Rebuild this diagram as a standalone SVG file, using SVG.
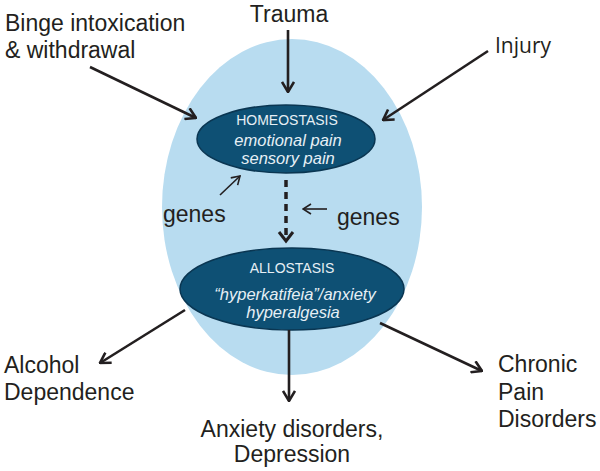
<svg xmlns="http://www.w3.org/2000/svg" width="600" height="471" viewBox="0 0 600 471">
<defs>
<style>
.lbl{font-family:"Liberation Sans",Arial,sans-serif;font-size:23px;fill:#231f20}
.in{font-family:"Liberation Sans",Arial,sans-serif;fill:#e6eff5;text-anchor:middle}
.cap{font-size:14px}
.it{font-size:16.5px;font-style:italic}
.ar{stroke:#231f20;stroke-width:2.6;fill:none;marker-end:url(#chev)}
.thin{stroke:#231f20;stroke-width:1.6;fill:none;marker-end:url(#chevs)}
</style>
<marker id="chev" viewBox="0 0 12 14" refX="11" refY="7" markerWidth="12" markerHeight="14" markerUnits="userSpaceOnUse" orient="auto">
<path d="M1,1 L11,7 L1,13" fill="none" stroke="#231f20" stroke-width="2.6"/>
</marker>
<marker id="chevs" viewBox="0 0 10 12" refX="9" refY="6" markerWidth="10" markerHeight="12" markerUnits="userSpaceOnUse" orient="auto">
<path d="M1,1 L9,6 L1,11" fill="none" stroke="#231f20" stroke-width="1.6"/>
</marker>
</defs>
<rect width="600" height="471" fill="#ffffff"/>
<g id="outer"><ellipse cx="292" cy="207" rx="130" ry="168" fill="#b8dcf0"/></g>
<g id="homeostasis">
<ellipse cx="286" cy="139" rx="89" ry="34" fill="#0e5074" stroke="#0a3652" stroke-width="1.5"/>
<text class="in cap" x="287" y="125">HOMEOSTASIS</text>
<text class="in it" x="288" y="146">emotional pain</text>
<text class="in it" x="288" y="164">sensory pain</text>
</g>
<g id="allostasis">
<ellipse cx="292" cy="289" rx="112" ry="41" fill="#0e5074" stroke="#0a3652" stroke-width="1.5"/>
<text class="in cap" x="292" y="273">ALLOSTASIS</text>
<text class="in it" x="295" y="300">“hyperkatifeia”/anxiety</text>
<text class="in it" x="293" y="318">hyperalgesia</text>
</g>
<g id="labels">
<text class="lbl" x="5" y="31">Binge intoxication</text>
<text class="lbl" x="5" y="58">&amp; withdrawal</text>
<text class="lbl" x="289" y="22" text-anchor="middle">Trauma</text>
<text x="495" y="53" style="font-family:'Open Sans',sans-serif;font-size:21px;fill:#231f20">Injury</text>
<text class="lbl" x="163" y="222">genes</text>
<text class="lbl" x="337" y="225">genes</text>
<text class="lbl" x="4" y="373">Alcohol</text>
<text class="lbl" x="4" y="400">Dependence</text>
<text class="lbl" x="498" y="372">Chronic</text>
<text class="lbl" x="498" y="400">Pain</text>
<text class="lbl" x="498" y="427">Disorders</text>
<text class="lbl" x="292" y="437" text-anchor="middle">Anxiety disorders,</text>
<text class="lbl" x="292" y="462" text-anchor="middle">Depression</text>
</g>
<g id="connectors">
<line class="ar" x1="288" y1="30" x2="288" y2="92"/>
<line class="ar" x1="90" y1="67" x2="196" y2="118"/>
<line class="ar" x1="488" y1="51" x2="383" y2="120"/>
<line class="thin" x1="220" y1="195" x2="240" y2="176"/>
<line class="thin" x1="327" y1="209" x2="303" y2="209"/>
<line x1="286" y1="180" x2="286" y2="236" stroke="#231f20" stroke-width="3.5" stroke-dasharray="7,5"/>
<path d="M279,232 L286,241 L293,232" fill="none" stroke="#231f20" stroke-width="3"/>
<line class="ar" x1="185" y1="310" x2="100" y2="363"/>
<line class="ar" x1="380" y1="323" x2="482" y2="371"/>
<line class="ar" x1="289" y1="330" x2="289" y2="401"/>
</g>
</svg>
